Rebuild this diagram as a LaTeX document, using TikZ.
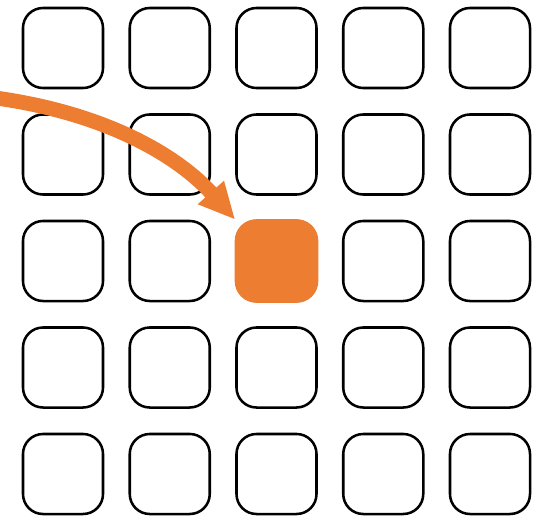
\documentclass[tikz,border=0pt]{standalone}
\usetikzlibrary{arrows.meta}
\definecolor{accent}{HTML}{ED7D31}

\begin{document}
\begin{tikzpicture}[x=0.025cm, y=-0.025cm,
    cell/.style={draw=black, line width=1.8pt, rounded corners=0.5cm,
      minimum size=2.0cm, inner sep=0pt},
    hit/.style={cell, draw=accent, fill=accent, line width=2.6pt}]
  \useasboundingbox (0,0) rectangle (539,520);
  % 5x5 grid of cells
  \foreach \r in {1,...,5}
    \foreach \c in {1,...,5}
      \node[cell] (cell-\r-\c) at ({63+106.75*(\c-1)}, {48+106.5*(\r-1)}) {};
  % the chosen cell
  \node[hit] at (cell-3-3) {};
  % curved arrow coming in from the left
  \coordinate (entry) at (-4,98);
  \draw[accent, line width=10.5pt, -{Triangle[length=26pt, width=23pt]}]
    (entry) .. controls (110,114) and (180,158) .. (cell-3-3.north west);
\end{tikzpicture}
\end{document}
